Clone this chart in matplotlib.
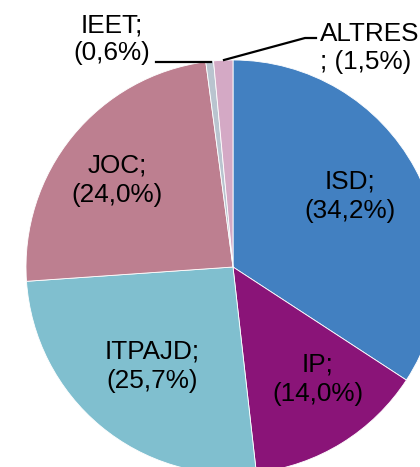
import matplotlib.pyplot as plt

# dades del gràfic
labels = ["ISD", "IP", "ITPAJD", "JOC", "IEET", "ALTRES"]
values = [34.2, 14.0, 25.7, 24.0, 0.6, 1.5]
colors = ["#4280c1", "#8a1478", "#80bfcf", "#bd7f90", "#b9c4cf", "#d4a9c5"]

plt.rcParams['font.family'] = ['Liberation Sans', 'DejaVu Sans']

W, H = 420, 467
fig = plt.figure(figsize=(W / 100, H / 100), dpi=100)
ax = fig.add_axes([0, 0, 1, 1])

cx, cy, r = 233, H - 267, 207
ax.pie(values, colors=colors, startangle=90, counterclock=False,
       center=(cx, cy), radius=r, frame=True,
       wedgeprops=dict(edgecolor="white", linewidth=0.6))
ax.set_xlim(0, W)
ax.set_ylim(0, H)
ax.set_aspect("equal")
ax.axis("off")

def lab(i):
    return f"{labels[i]};\n({values[i]:.1f}%)".replace(".", ",")

fs = 18.8
kw = dict(va="center", fontsize=fs, linespacing=1.28)
ax.text(350, H - 196, lab(0), ha="center", **kw)
ax.text(318, H - 379, lab(1), ha="center", **kw)
ax.text(152, H - 366, lab(2), ha="center", **kw)
ax.text(117, H - 180, lab(3), ha="center", **kw)
ax.text(112, H - 39, lab(4), ha="center", va="center", fontsize=fs, linespacing=1.18)
ax.text(320, H - 48, f"{labels[5]}\n; ({values[5]:.1f}%)".replace(".", ","),
        ha="left", va="center", fontsize=fs, linespacing=1.18)

# línies guia
ax.plot([156, 211], [H - 62, H - 62], color="black", lw=1.6)
ax.plot([224, 305, 316], [H - 60, H - 38, H - 38], color="black", lw=1.6)

fig.savefig("out.png", dpi=100)
